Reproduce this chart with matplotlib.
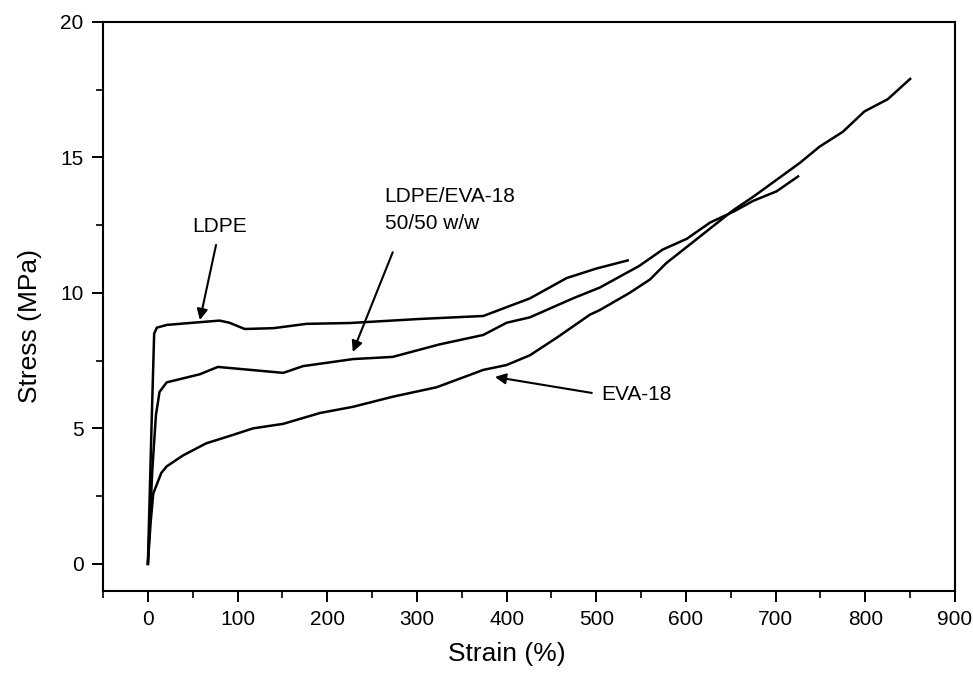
import matplotlib

matplotlib.use("Agg")
import matplotlib.pyplot as plt
from matplotlib.ticker import MultipleLocator

plt.rcParams["font.family"] = ["Liberation Sans", "DejaVu Sans"]

# strain (%) / stress (MPa)
ldpe_strain = [0, 4, 7, 10, 21, 50, 80, 91, 108, 140, 177, 225, 303, 374, 426, 467, 500, 535]
ldpe_stress = [0, 5.0, 8.5, 8.72, 8.82, 8.9, 8.98, 8.9, 8.67, 8.7, 8.86, 8.89, 9.04, 9.15, 9.8, 10.55, 10.9, 11.2]

blend_strain = [0, 5, 9, 13, 21, 58, 78, 151, 173, 229, 273, 325, 374, 400, 426, 474, 504, 548,
                574, 601, 627, 653, 675, 701, 725]
blend_stress = [0, 3.5, 5.5, 6.35, 6.7, 7.0, 7.27, 7.05, 7.3, 7.56, 7.64, 8.1, 8.45, 8.9, 9.1, 9.8,
                10.2, 11.0, 11.6, 12.0, 12.6, 13.0, 13.4, 13.75, 14.3]

eva_strain = [0, 3, 6, 15, 21, 39, 65, 91, 117, 151, 192, 229, 273, 322, 374, 400, 426, 456, 493,
              504, 537, 560, 578, 601, 653, 675, 727, 749, 775, 799, 825, 850]
eva_stress = [0, 1.5, 2.6, 3.36, 3.6, 4.0, 4.45, 4.72, 5.0, 5.17, 5.57, 5.8, 6.17, 6.52, 7.16, 7.34,
              7.7, 8.35, 9.2, 9.37, 10.0, 10.5, 11.1, 11.7, 13.06, 13.55, 14.8, 15.4, 15.95, 16.7,
              17.15, 17.9]

fig = plt.figure(figsize=(9.73, 6.79), dpi=100)
ax = fig.add_axes([0.1059, 0.1296, 0.8756, 0.838])

for xs, ys in [(ldpe_strain, ldpe_stress), (blend_strain, blend_stress), (eva_strain, eva_stress)]:
    ax.plot(xs, ys, color="black", linewidth=1.8, solid_joinstyle="round")

ax.set_xlim(-50, 900)
ax.set_ylim(-1, 20)
ax.xaxis.set_major_locator(MultipleLocator(100))
ax.xaxis.set_minor_locator(MultipleLocator(50))
ax.yaxis.set_major_locator(MultipleLocator(5))
ax.yaxis.set_minor_locator(MultipleLocator(2.5))
ax.tick_params(which="major", direction="out", length=8, width=1.4, labelsize=15, pad=6)
ax.tick_params(which="minor", direction="out", length=5, width=1.2)
for s in ax.spines.values():
    s.set_linewidth(1.5)

ax.set_xlabel("Strain (%)", fontsize=19)
ax.set_ylabel("Stress (MPa)", fontsize=19)
ax.xaxis.set_label_coords(0.474, -0.089)
ax.yaxis.set_label_coords(-0.072, 0.465)

arrow = dict(arrowstyle="-|>", color="black", lw=1.5, mutation_scale=16, shrinkA=0, shrinkB=0)
ax.annotate("", xy=(58, 9.0), xytext=(76, 11.77), arrowprops=arrow)
ax.text(80, 12.45, "LDPE", fontsize=15, ha="center", va="center")

ax.annotate("", xy=(228.5, 7.82), xytext=(273, 11.5), arrowprops=arrow)
ax.text(264, 13.06, "LDPE/EVA-18\n50/50 w/w", fontsize=15, ha="left", va="center", linespacing=1.55)

ax.annotate("", xy=(387, 6.9), xytext=(495, 6.31), arrowprops=arrow)
ax.text(506, 6.26, "EVA-18", fontsize=15, ha="left", va="center")

fig.savefig("out.png", dpi=100)
